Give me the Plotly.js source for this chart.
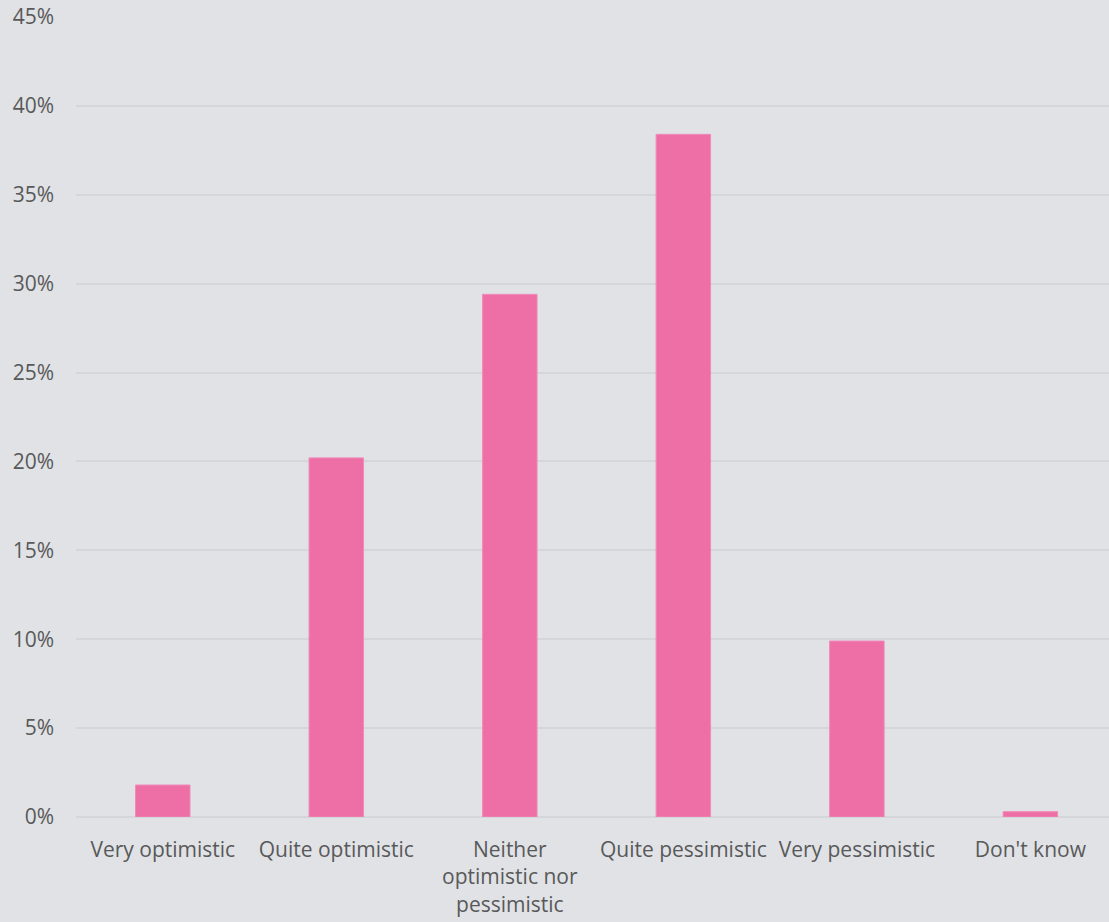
<!DOCTYPE html>
<html>
<head>
<meta charset="utf-8">
<script src="https://cdn.plot.ly/plotly-3.0.1.min.js"></script>
<style>
  html, body { margin: 0; padding: 0; background: #e0e2e6; }
  #chart { width: 1109px; height: 922px; }
</style>
</head>
<body>
<div id="chart"></div>
<script>
// Survey responses: outlook share (%)
const categories = [
  "Very optimistic",
  "Quite optimistic",
  "Neither<br>optimistic nor<br>pessimistic",
  "Quite pessimistic",
  "Very pessimistic",
  "Don't know"
];
const shares = [1.8, 20.2, 29.4, 38.4, 9.9, 0.3];
const yTicks = [0, 5, 10, 15, 20, 25, 30, 35, 40, 45];

const textColor = "#595959";
const bg = "#e0e2e6";
const gridColor = "#d4d6d9";

const trace = {
  type: "bar",
  x: [0, 1, 2, 3, 4, 5],
  y: shares,
  width: 0.314,
  marker: { color: "#ee6fa6", line: { color: "#f08bb8", width: 1 } },
  hoverinfo: "skip"
};

const layout = {
  width: 1109,
  height: 922,
  paper_bgcolor: bg,
  plot_bgcolor: bg,
  margin: { l: 76, r: 0, t: 17, b: 105 },
  showlegend: false,
  font: { family: "'Open Sans', sans-serif", size: 21, color: textColor },
  xaxis: {
    range: [-0.5, 5.453],
    tickmode: "array",
    tickvals: [0, 1, 2, 3, 4, 5],
    ticktext: categories,
    showgrid: false,
    zeroline: false,
    showline: false,
    ticks: "",
    tickangle: 0,
    ticklabelstandoff: 18,
    fixedrange: true
  },
  yaxis: {
    range: [0, 45],
    tickmode: "array",
    tickvals: yTicks,
    ticktext: yTicks.map(v => v + "%"),
    showgrid: true,
    gridcolor: gridColor,
    gridwidth: 2,
    zeroline: true,
    zerolinecolor: gridColor,
    zerolinewidth: 2,
    showline: false,
    ticks: "",
    ticklabelstandoff: 21,
    fixedrange: true
  }
};

Plotly.newPlot("chart", [trace], layout, { staticPlot: true, displayModeBar: false });
</script>
</body>
</html>
